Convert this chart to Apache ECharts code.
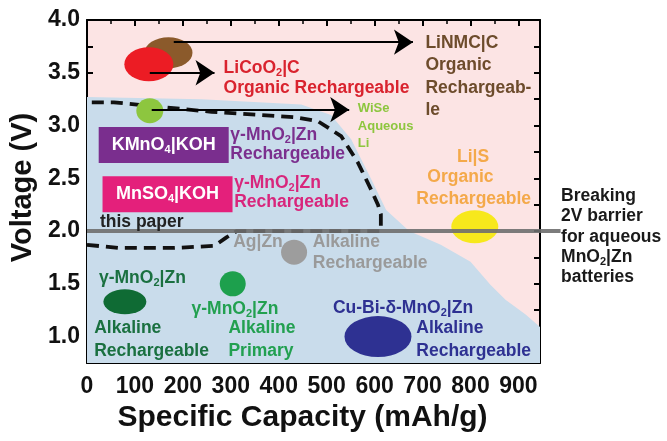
<!DOCTYPE html>
<html>
<head>
<meta charset="utf-8">
<script src="https://cdn.jsdelivr.net/npm/echarts@6/dist/echarts.min.js"></script>
<style>
html, body { margin: 0; padding: 0; background: #fff; }
#chart { width: 667px; height: 441px; }
</style>
</head>
<body>
<div id="chart"></div>
<script>
const FONT = '"Liberation Sans", Arial, sans-serif'

// axes
const xMin = 0, xMax = 945
const yMin = 0.75, yMax = 4

// battery systems (capacity mAh/g, voltage V)
const systems = ['LiNMC|C', 'LiCoO2|C', 'WiSe', 'Ag|Zn', 'MnO2 primary', 'MnO2 rech', 'Cu-Bi', 'Li|S']
const capacity = [170, 129, 131, 432, 304, 79, 607, 809]
const voltage = [3.69, 3.58, 3.14, 1.80, 1.50, 1.33, 1.00, 2.04]

// aqueous region (blue) upper edge
const aqCap = [0, 239, 447, 509, 551, 593, 624, 672, 738, 800, 842, 873, 915, 945]
const aqVolt = [3.27, 3.25, 3.20, 3.10, 2.87, 2.49, 2.20, 2.00, 1.87, 1.71, 1.49, 1.35, 1.21, 1.09]

// "this paper" dashed outline
const paperCap = [0, 66, 183, 266, 291, 312, 447, 613, 613, 607, 593, 565, 530, 482, 432, 260, 56, 0]
const paperVolt = [1.87, 1.84, 1.84, 1.86, 1.94, 2.0, 2.0, 2.0, 2.16, 2.25, 2.39, 2.65, 2.90, 3.04, 3.08, 3.13, 3.22, 3.22]

// 2 V barrier line, runs past the frame to the note
const barrier = 2.0
const barrierEnd = 988

// arrows: [from cap, to cap, voltage]
const arrows = [[181, 680, 3.79], [131, 266, 3.50], [135, 547, 3.15]]

// this paper boxes
const boxes = [['KMnO_4|KOH', 160, 2.815], ['MnSO_4|KOH', 168, 2.35]]
const boxColors = ['#7a2e8e', '#e4207b']

// look of each system
const look = {
  'LiNMC|C': ['#8b5a2b', [48, 31]],
  'LiCoO2|C': ['#ec1c24', [49, 34]],
  'WiSe': ['#8dc63f', [27, 25]],
  'Ag|Zn': ['#9d9d9d', [26, 25]],
  'MnO2 primary': ['#1da04d', [26, 25]],
  'MnO2 rech': ['#0f6b34', [43, 25]],
  'Cu-Bi': ['#2e3192', [67, 41]],
  'Li|S': ['#f7e81c', [47, 33]]
}

// text notes: [text, cap, volt, color, size]
const notes = [
  ['LiCoO_2|C', 285, 3.545, '#d9232e'],
  ['Organic Rechargeable', 285, 3.355, '#d9232e'],
  ['LiNMC|C', 706, 3.782, '#6d4c2c'],
  ['Organic', 706, 3.573, '#6d4c2c'],
  ['Rechargeab-', 706, 3.355, '#6d4c2c'],
  ['le', 706, 3.147, '#6d4c2c'],
  ['WiSe', 565, 3.166, '#8dc63f', 13],
  ['Aqueous', 565, 2.995, '#8dc63f', 13],
  ['Li', 565, 2.834, '#8dc63f', 13],
  ['Li|S', 772, 2.70, '#f4a94a'],
  ['Organic', 710, 2.51, '#f4a94a'],
  ['Rechargeable', 687, 2.30, '#f4a94a'],
  ['γ-MnO_2|Zn', 299, 2.91, '#7b2f8e'],
  ['Rechargeable', 299, 2.73, '#7b2f8e'],
  ['γ-MnO_2|Zn', 307, 2.455, '#d8267c'],
  ['Rechargeable', 307, 2.275, '#d8267c'],
  ['this paper', 27, 2.085, '#222222'],
  ['Ag|Zn', 305, 1.896, '#9a9a9a'],
  ['Alkaline', 471, 1.896, '#9a9a9a'],
  ['Rechargeable', 471, 1.697, '#9a9a9a'],
  ['γ-MnO_2|Zn', 25, 1.555, '#1a7040'],
  ['Alkaline', 15, 1.08, '#1a7040'],
  ['Rechargeable', 15, 0.863, '#1a7040'],
  ['γ-MnO_2|Zn', 218, 1.26, '#22a050'],
  ['Alkaline', 295, 1.08, '#22a050'],
  ['Primary', 295, 0.863, '#22a050'],
  ['Cu-Bi-δ-MnO_2|Zn', 513, 1.27, '#2e3192'],
  ['Alkaline', 687, 1.08, '#2e3192'],
  ['Rechargeable', 687, 0.863, '#2e3192'],
  ['Breaking', 989, 2.332, '#1a1a1a'],
  ['2V barrier', 989, 2.137, '#1a1a1a'],
  ['for aqueous', 989, 1.943, '#1a1a1a'],
  ['MnO_2|Zn', 989, 1.754, '#1a1a1a'],
  ['batteries', 989, 1.559, '#1a1a1a']
]

const sub = t => t.replace(/_(\d)/g, '{s|$1}')

const chart = echarts.init(document.getElementById('chart'))

const axisBase = {
  axisLine: { show: true, onZero: false, lineStyle: { color: '#000', width: 2 } },
  axisTick: { show: true, inside: true, length: 6, lineStyle: { color: '#000', width: 2 } },
  minorTick: { show: true, splitNumber: 2, length: 4, lineStyle: { color: '#000', width: 1.5 } },
  splitLine: { show: false }
}
const labelBase = { fontFamily: FONT, fontWeight: 'bold', fontSize: 23, color: '#111' }
const nameBase = { fontFamily: FONT, fontWeight: 'bold', fontSize: 29, color: '#111' }
const yFmt = v => (Math.abs(v * 2 - Math.round(v * 2)) < 1e-6 ? v.toFixed(1) : '')

const option = {
  animation: false,
  grid: { left: 85, right: 127, top: 20, bottom: 78, show: true, backgroundColor: '#fce4e4', borderWidth: 0 },
  xAxis: [
    Object.assign({}, axisBase, {
      type: 'value', min: xMin, max: xMax, interval: 100, position: 'bottom',
      name: 'Specific Capacity (mAh/g)', nameLocation: 'middle', nameGap: 38,
      nameTextStyle: Object.assign({}, nameBase, { fontSize: 30, padding: [0, 22, 0, 0] }),
      axisLabel: Object.assign({}, labelBase, { margin: 12, showMaxLabel: false })
    }),
    Object.assign({}, axisBase, {
      type: 'value', min: xMin, max: xMax, interval: 100, position: 'top', axisLabel: { show: false }
    })
  ],
  yAxis: [
    Object.assign({}, axisBase, {
      type: 'value', min: yMin, max: yMax, interval: 0.25, position: 'left',
      minorTick: { show: false },
      name: 'Voltage (V)', nameLocation: 'middle', nameGap: 50,
      nameTextStyle: Object.assign({}, nameBase, { padding: [0, 0, 0, 8] }),
      axisLabel: Object.assign({}, labelBase, { margin: 7, formatter: yFmt })
    }),
    Object.assign({}, axisBase, {
      type: 'value', min: yMin, max: yMax, interval: 0.25, position: 'right',
      minorTick: { show: false }, axisLabel: { show: false }
    })
  ],
  series: [
    {
      type: 'custom', silent: true, clip: true, z: 1,
      data: [[0, yMin]],
      renderItem: (params, api) => {
        const pts = aqCap.map((c, i) => api.coord([c, aqVolt[i]]))
        pts.push(api.coord([xMax, yMin]), api.coord([xMin, yMin]))
        return { type: 'polygon', shape: { points: pts }, style: { fill: '#c9dceb' } }
      }
    },
    {
      type: 'line', silent: true, z: 2, symbol: 'none',
      data: paperCap.map((c, i) => [c, paperVolt[i]]),
      lineStyle: { color: '#111', width: 3.8, type: [12, 7] }
    },
    {
      type: 'scatter', silent: true, z: 3,
      data: systems.map((s, i) => ({
        value: [capacity[i], voltage[i]],
        symbolSize: look[s][1],
        itemStyle: { color: look[s][0], opacity: 1 }
      }))
    },
    {
      type: 'custom', silent: true, clip: false, z: 4,
      data: [[xMin, barrier]],
      renderItem: (params, api) => {
        const a = api.coord([xMin, barrier])
        const b = api.coord([barrierEnd, barrier])
        return {
          type: 'line', shape: { x1: a[0], y1: a[1], x2: b[0], y2: b[1] },
          style: { stroke: '#6e6e6e', lineWidth: 4, opacity: 0.9 }
        }
      }
    },
    {
      type: 'lines', coordinateSystem: 'cartesian2d', silent: true, z: 5,
      symbol: ['none', 'arrow'], symbolSize: 19,
      lineStyle: { color: '#000', width: 2, opacity: 1 },
      data: arrows.map(a => ({ coords: [[a[0], a[2]], [a[1], a[2]]] }))
    },
    {
      type: 'scatter', silent: true, z: 5, symbol: 'rect', symbolSize: [130, 36],
      data: boxes.map((b, i) => ({
        value: [b[1], b[2]],
        itemStyle: { color: boxColors[i], opacity: 1 }
      })),
      label: {
        show: true, position: 'inside', color: '#fff', fontFamily: FONT, fontWeight: 'bold', fontSize: 18,
        lineHeight: 20,
        formatter: p => sub(boxes[p.dataIndex][0]),
        rich: { s: { fontSize: 11, lineHeight: 11, verticalAlign: 'bottom', color: '#fff', fontWeight: 'bold', fontFamily: FONT } }
      }
    },
    {
      type: 'scatter', silent: true, z: 6, symbolSize: 0, clip: false,
      itemStyle: { opacity: 1 },
      data: notes.map(n => {
        const fs = n[4] || 17.5
        return {
          value: [n[1], n[2]],
          label: {
            show: true, position: 'right', distance: 0, opacity: 1,
            color: n[3], fontSize: fs, lineHeight: fs + 3, fontFamily: FONT, fontWeight: 'bold',
            formatter: sub(n[0]),
            rich: { s: { fontSize: Math.round(fs * 0.62), lineHeight: 10, verticalAlign: 'bottom', color: n[3], fontWeight: 'bold', fontFamily: FONT } }
          }
        }
      })
    }
  ]
}

chart.setOption(option)
</script>
</body>
</html>
